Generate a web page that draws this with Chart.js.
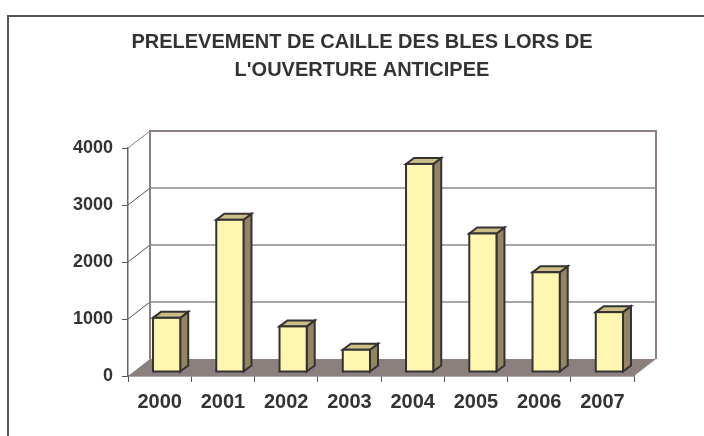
<!DOCTYPE html>
<html>
<head>
<meta charset="utf-8">
<script src="https://cdn.jsdelivr.net/npm/chart.js@4/dist/chart.umd.min.js"></script>
<style>
  html, body { margin: 0; padding: 0; background: #fff; }
  #wrap { width: 704px; height: 436px; }
</style>
</head>
<body>
<div id="wrap"><canvas id="myChart" width="704" height="436"></canvas></div>
<script>
var years = ["2000", "2001", "2002", "2003", "2004", "2005", "2006", "2007"];
var prelevements = [950, 2670, 800, 390, 3650, 2430, 1750, 1050];
var yTicks = [0, 1000, 2000, 3000, 4000];

// oblique depth of the "3D" box
var DEPTH_X = 22, DEPTH_Y = -17;
// bar position inside the depth and its own thickness
var BAR_DX = 7, BAR_DY = -4, BAR_SIDE_X = 8, BAR_SIDE_Y = -6;

var frame3d = {
    id: 'frame3d',
    afterLayout: function (chart) {
        // title is centred over the plot box, not the whole canvas
        if (chart.titleBlock) {
            chart.titleBlock.left = 90;
            chart.titleBlock.right = 634;
        }
    },
    beforeDraw: function (chart) {
        var c = chart.ctx;
        c.save();
        c.strokeStyle = '#555';
        c.lineWidth = 2;
        c.strokeRect(8, 16, 900, 900);
        c.restore();
    },
    beforeDatasetsDraw: function (chart) {
        var c = chart.ctx, a = chart.chartArea, y = chart.scales.y;
        var y0 = y.getPixelForValue(0), yTop = y.getPixelForValue(4000);
        c.save();
        // floor
        c.fillStyle = '#8c807e';
        c.beginPath();
        c.moveTo(a.left, y0);
        c.lineTo(a.right, y0);
        c.lineTo(a.right + DEPTH_X, y0 + DEPTH_Y);
        c.lineTo(a.left + DEPTH_X, y0 + DEPTH_Y);
        c.closePath();
        c.fill();
        // back wall grid lines
        c.lineWidth = 1.5;
        c.strokeStyle = '#8a8a8a';
        yTicks.forEach(function (v) {
            if (v === 0 || v === 4000) return;
            var p = y.getPixelForValue(v) + DEPTH_Y;
            c.beginPath();
            c.moveTo(a.left + DEPTH_X, p);
            c.lineTo(a.right + DEPTH_X, p);
            c.stroke();
        });
        // side wall diagonals
        c.lineWidth = 1;
        yTicks.forEach(function (v) {
            if (v === 0) return;
            var p = y.getPixelForValue(v);
            c.strokeStyle = v === 4000 ? '#8c7f7f' : '#555';
            c.beginPath();
            c.moveTo(a.left, p);
            c.lineTo(a.left + DEPTH_X, p + DEPTH_Y);
            c.stroke();
        });
        // back wall outline
        c.lineWidth = 2;
        c.strokeStyle = '#8c7f7f';
        c.beginPath();
        c.moveTo(a.left + DEPTH_X, y0 + DEPTH_Y);
        c.lineTo(a.left + DEPTH_X, yTop + DEPTH_Y);
        c.lineTo(a.right + DEPTH_X, yTop + DEPTH_Y);
        c.lineTo(a.right + DEPTH_X, y0 + DEPTH_Y);
        c.stroke();
        c.restore();
    },
    afterDatasetsDraw: function (chart) {
        var c = chart.ctx;
        var meta = chart.getDatasetMeta(0);
        c.save();
        c.lineWidth = 2;
        c.strokeStyle = '#333';
        meta.data.forEach(function (el) {
            var p = el.getProps(['x', 'y', 'base', 'width'], true);
            var l = p.x - p.width / 2 + BAR_DX, r = p.x + p.width / 2 + BAR_DX;
            var t = p.y + BAR_DY, b = p.base + BAR_DY;
            // side
            c.fillStyle = '#948461';
            c.beginPath();
            c.moveTo(r, b);
            c.lineTo(r + BAR_SIDE_X, b + BAR_SIDE_Y);
            c.lineTo(r + BAR_SIDE_X, t + BAR_SIDE_Y);
            c.lineTo(r, t);
            c.closePath();
            c.fill();
            c.stroke();
            // top
            c.fillStyle = '#cdbd86';
            c.beginPath();
            c.moveTo(l, t);
            c.lineTo(l + BAR_SIDE_X, t + BAR_SIDE_Y);
            c.lineTo(r + BAR_SIDE_X, t + BAR_SIDE_Y);
            c.lineTo(r, t);
            c.closePath();
            c.fill();
            c.stroke();
            // front
            c.fillStyle = '#fff6b0';
            c.fillRect(l, t, r - l, b - t);
            c.strokeRect(l, t, r - l, b - t);
        });
        c.restore();
    }
};

var ctx = document.getElementById('myChart');

var myBarChart = new Chart(ctx, {
    type: 'bar',
    data: {
        labels: years,
        datasets: [{
            label: "Prelevement",
            data: prelevements,
            backgroundColor: 'rgba(0,0,0,0)',
            borderWidth: 0,
            categoryPercentage: 1,
            barPercentage: 0.43
        }]
    },
    options: {
        responsive: false,
        animation: false,
        layout: {
            padding: { left: 0, right: 70, top: 0, bottom: 0 }
        },
        plugins: {
            legend: { display: false },
            tooltip: { enabled: false },
            title: {
                display: true,
                text: ["PRELEVEMENT DE CAILLE DES BLES LORS DE", "L'OUVERTURE ANTICIPEE"],
                color: '#333',
                font: { family: 'Liberation Sans, Arial, sans-serif', size: 20, weight: 'bold', lineHeight: 1.4 },
                padding: { top: 28, bottom: 64 }
            }
        },
        scales: {
            x: {
                afterFit: function (scale) { scale.height = 60; },
                grid: {
                    drawOnChartArea: false,
                    drawTicks: true,
                    tickLength: 6,
                    color: '#555',
                    offset: true
                },
                border: { color: '#555', width: 1.5 },
                ticks: {
                    color: '#333',
                    padding: 8,
                    font: { family: 'Liberation Sans, Arial, sans-serif', size: 20, weight: 'bold' }
                }
            },
            y: {
                min: 0,
                max: 4000,
                afterFit: function (scale) { scale.width = 128; },
                afterBuildTicks: function (scale) {
                    scale.ticks = yTicks.map(function (v) { return { value: v }; });
                },
                grid: {
                    drawOnChartArea: false,
                    drawTicks: true,
                    tickLength: 6,
                    color: '#555'
                },
                border: { color: '#666', width: 1.5 },
                ticks: {
                    color: '#333',
                    padding: 9,
                    callback: function (v) { return String(v); },
                    font: { family: 'Liberation Sans, Arial, sans-serif', size: 18, weight: 'bold' }
                }
            }
        }
    },
    plugins: [frame3d]
});
</script>
</body>
</html>
